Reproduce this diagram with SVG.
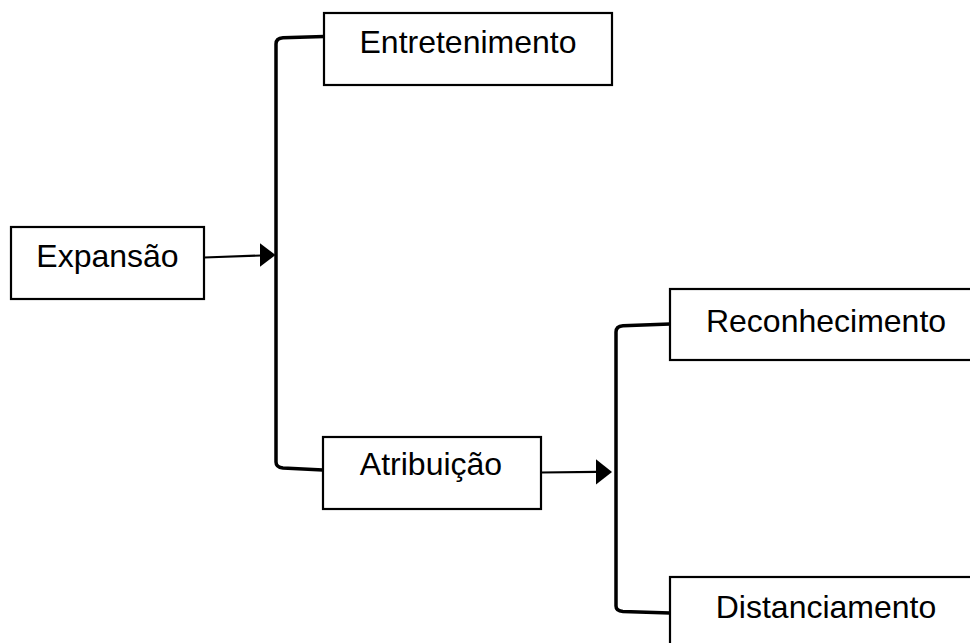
<svg xmlns="http://www.w3.org/2000/svg" width="970" height="643" viewBox="0 0 970 643">
<style>
.box{fill:#fff;stroke:#000;stroke-width:2.2}
.lbl{font-family:"Liberation Sans",Arial,sans-serif;font-size:32px;fill:#000;text-anchor:middle}
.br{fill:none;stroke:#000;stroke-width:3.5;stroke-linejoin:round}
.ar{fill:none;stroke:#000;stroke-width:2.2}
.head{fill:#000}
</style>
<rect width="970" height="643" fill="#fff"/>
<g id="connectors">
<path class="br" d="M324,36.5 L283,37.8 Q276,38.3 276,44 L276,462 Q276,467.3 283,468 L323,470"/>
<path class="br" d="M670,324 L623,325.7 Q616,326.2 616,332 L616,606 Q616,611 623,611.5 L670,613"/>
<line class="ar" x1="204" y1="257.5" x2="261" y2="255.5"/>
<polygon class="head" points="260,243.3 275.5,255 260,266.7"/>
<line class="ar" x1="541" y1="472.5" x2="597" y2="471.8"/>
<polygon class="head" points="596,459.3 612,472 596,484.5"/>
</g>
<g id="n-entretenimento">
<rect class="box" x="324" y="13" width="288" height="72"/>
<text class="lbl" x="468" y="53">Entretenimento</text>
</g>
<g id="n-expansao">
<rect class="box" x="11" y="227" width="193" height="72"/>
<text class="lbl" x="107.5" y="267">Expansão</text>
</g>
<g id="n-atribuicao">
<rect class="box" x="323" y="437" width="218" height="72"/>
<text class="lbl" x="431" y="475">Atribuição</text>
</g>
<g id="n-reconhecimento">
<rect class="box" x="670" y="289" width="313" height="71"/>
<text class="lbl" x="826" y="332">Reconhecimento</text>
</g>
<g id="n-distanciamento">
<rect class="box" x="670" y="577" width="313" height="72"/>
<text class="lbl" x="826" y="618">Distanciamento</text>
</g>
</svg>
